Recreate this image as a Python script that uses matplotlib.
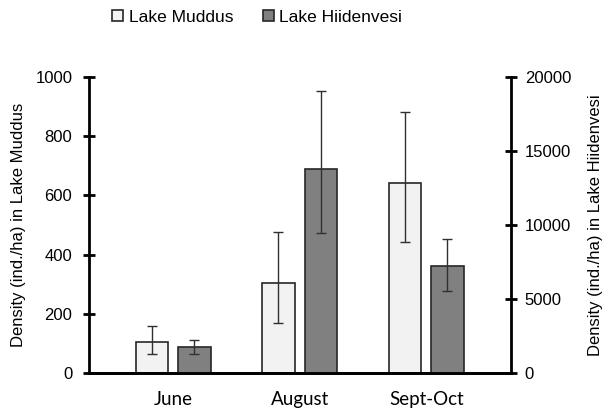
import numpy as np
import matplotlib.pyplot as plt

months = ["June", "August", "Sept-Oct"]
muddus = [106, 304, 643]
muddus_lo = [42, 134, 201]
muddus_hi = [54, 171, 240]
hiiden = [1740, 13790, 7210]
hiiden_lo = [426, 4345, 1690]
hiiden_hi = [493, 5250, 1865]

plt.rcParams['font.family'] = ['Liberation Sans', 'DejaVu Sans']

fig = plt.figure(figsize=(6.08, 4.11), dpi=100)
ax = fig.add_axes([0.1464, 0.0925, 0.694, 0.7202])
ax2 = ax.twinx()

x = np.arange(len(months))
w = 0.258
off = 0.168
edge = '#262626'
ekw = dict(ecolor='#303030', elinewidth=1, capsize=3.5, capthick=1)

b1 = ax.bar(x - off, muddus, w, color='#f2f2f2', edgecolor=edge, linewidth=1.2,
            yerr=[muddus_lo, muddus_hi], error_kw=ekw)
b2 = ax2.bar(x + off, hiiden, w, color='#808080', edgecolor=edge, linewidth=1.2,
             yerr=[hiiden_lo, hiiden_hi], error_kw=ekw)

ax.set_xlim(-0.665, 2.67)
ax.set_ylim(0, 1000)
ax2.set_ylim(0, 20000)
ax.set_yticks(range(0, 1001, 200))
ax2.set_yticks(range(0, 20001, 5000))
ax.set_xticks(x)
ax.set_xticklabels(months, family=['Lato', 'DejaVu Sans'], fontsize=13.5)

for a in (ax, ax2):
    a.spines['top'].set_visible(False)
    for s in ('left', 'right', 'bottom'):
        a.spines[s].set_linewidth(2)
        a.spines[s].set_color('black')
    a.tick_params(axis='y', direction='inout', length=8, width=2, labelsize=12)
ax.spines['right'].set_visible(False)
ax2.spines['left'].set_visible(False)
ax.tick_params(axis='x', length=0, pad=13)
ax.tick_params(axis='y', pad=8)
ax2.tick_params(axis='y', pad=6)

ax.set_ylabel("Density (ind./ha) in Lake Muddus", fontsize=12, labelpad=7)
ax2.set_ylabel("Density (ind./ha) in Lake Hiidenvesi", fontsize=12, labelpad=12)

fig.legend([b1, b2], ["Lake Muddus", "Lake Hiidenvesi"], loc='center',
           bbox_to_anchor=(257 / 608, 1 - 17 / 411), ncol=2, frameon=False,
           fontsize=12.5, handlelength=0.65, handleheight=0.65, handletextpad=0.3,
           columnspacing=1.7)

fig.savefig("out.png", dpi=100)
